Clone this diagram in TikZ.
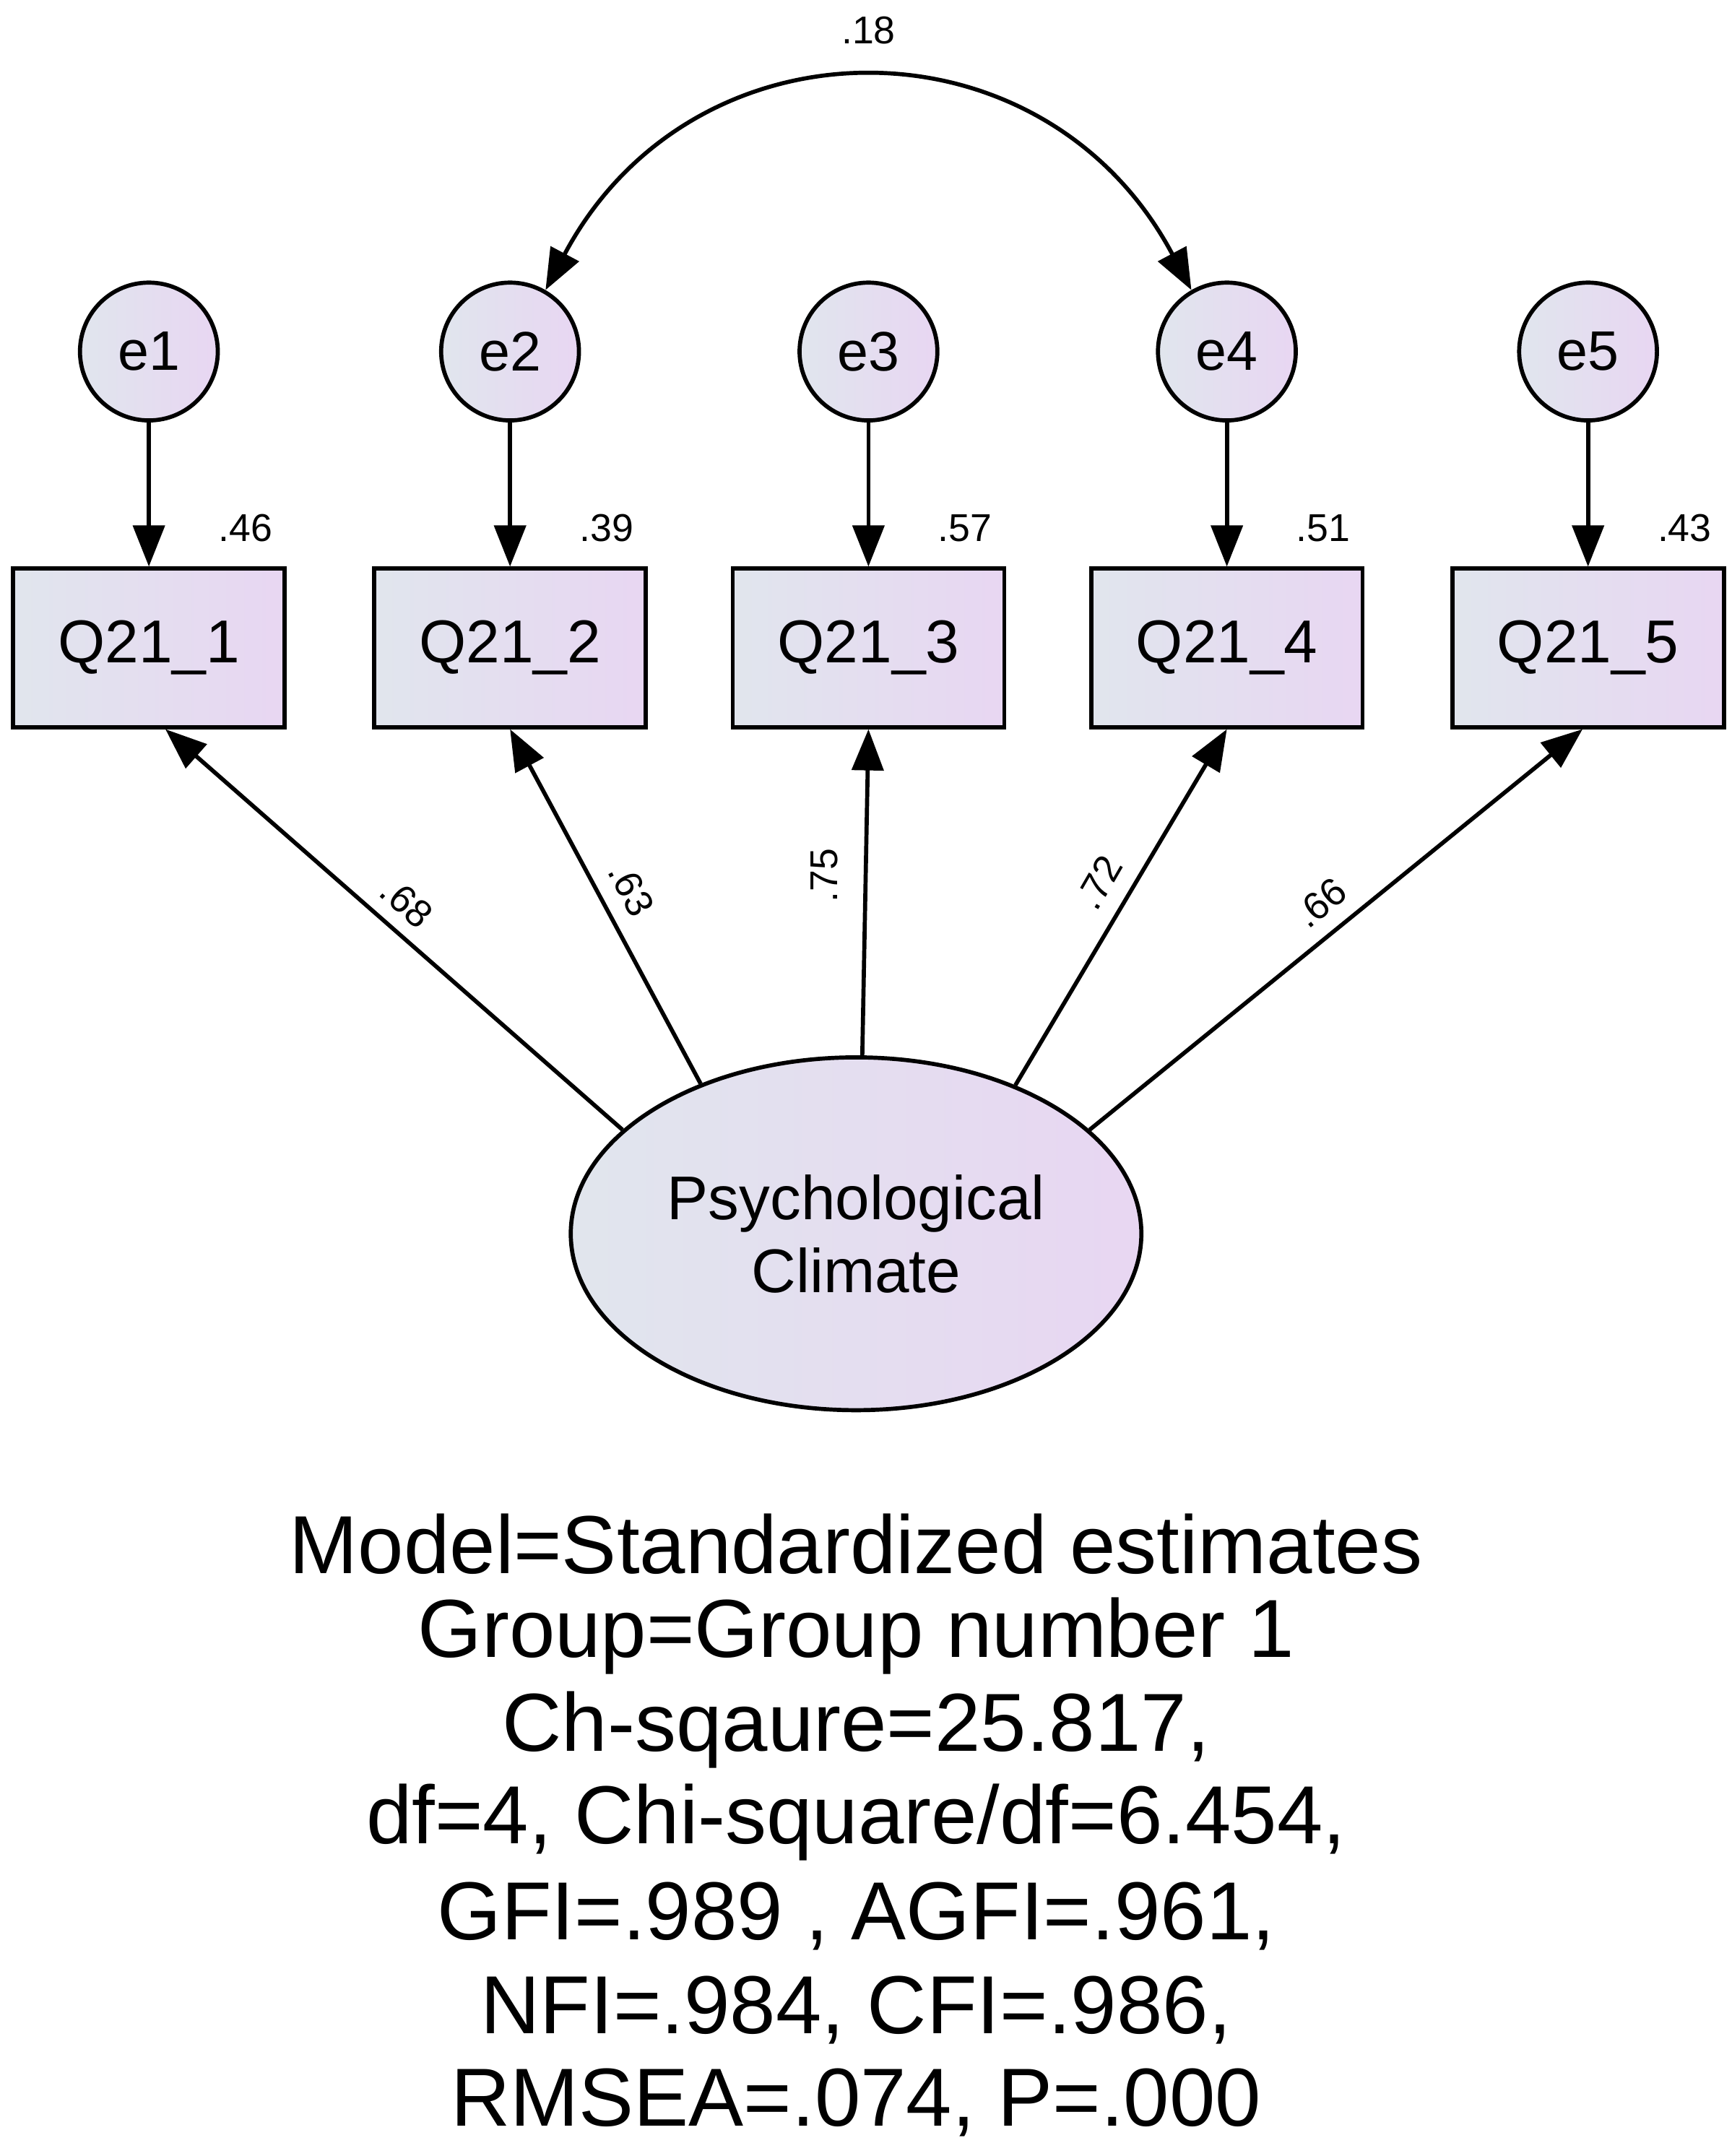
\documentclass[tikz,border=0pt]{standalone}
\usepackage{fontspec}
\setmainfont{Liberation Sans}
\usetikzlibrary{shapes.geometric,arrows.meta}
\definecolor{fa}{rgb}{0.88,0.90,0.93}
\definecolor{fb}{rgb}{0.91,0.84,0.95}
\begin{document}
\begin{tikzpicture}[x=0.02cm,y=-0.02cm,
  sh/.style={draw=black,line width=1.7pt,left color=fa,right color=fb},
  err/.style={sh,circle,minimum size=2cm,inner sep=0pt,font=\fontsize{23}{27}\selectfont},
  obs/.style={sh,rectangle,minimum width=3.94cm,minimum height=2.3cm,inner sep=0pt,font=\fontsize{25}{29}\selectfont},
  arr/.style={line width=1.7pt,-{Triangle[length=17pt,width=13pt]}},
  lab/.style={font=\fontsize{16}{18}\selectfont,inner sep=0pt},
  txt/.style={font=\fontsize{34}{40}\selectfont,inner sep=0pt}]
\useasboundingbox (0,0) rectangle (1256,1564);
\foreach \i/\x/\v in {1/108/.46,2/370/.39,3/630/.57,4/890/.51,5/1152/.43}{
  \node[err] (e\i) at (\x,255) {e\i};
  \node[obs] (q\i) at (\x,470) {Q21\_\i};
  \node[lab] (v\i) at (\x+70,383) {\v};
  \draw[arr] (e\i) -- (q\i);
}
\node[sh,ellipse,minimum width=8.28cm,minimum height=5.12cm,inner sep=0pt,align=center,font=\fontsize{25.5}{30}\selectfont] (pc) at (621,895) {Psychological\\Climate};
\draw[arr] (pc.156) -- ([xshift=0.24cm]q1.south);
\draw[arr] (pc.136) -- (q2.south);
\draw[arr] (pc.88) -- (q3.south);
\draw[arr] (pc.43) -- (q4.south);
\draw[arr] (pc.24) -- ([xshift=-0.08cm]q5.south);
\node[lab,rotate=-42] (l1) at (295,655) {.68};
\node[lab,rotate=-63] (l2) at (458,645) {.63};
\node[lab,rotate=90] (l3) at (598,635) {.75};
\node[lab,rotate=60] (l4) at (797,640) {.72};
\node[lab,rotate=39] (l5) at (958,655) {.66};
\draw[line width=1.7pt,{Triangle[length=17pt,width=13pt]}-{Triangle[length=17pt,width=13pt]}] (e2.60) to[out=62,in=118,looseness=1.25] (e4.120);
\node[lab] (c) at (630,22) {.18};
\foreach \t/\y in {{Model=Standardized estimates}/1120,{Group=Group number 1}/1187,{Ch-sqaure=25.817,}/1255,{df=4, Chi-square/df=6.454,}/1322,{GFI=.989 , AGFI=.961,}/1390,{NFI=.984, CFI=.986,}/1458,{RMSEA=.074, P=.000}/1525}
  \node[txt] at (621,\y) {\t};
\end{tikzpicture}
\end{document}
